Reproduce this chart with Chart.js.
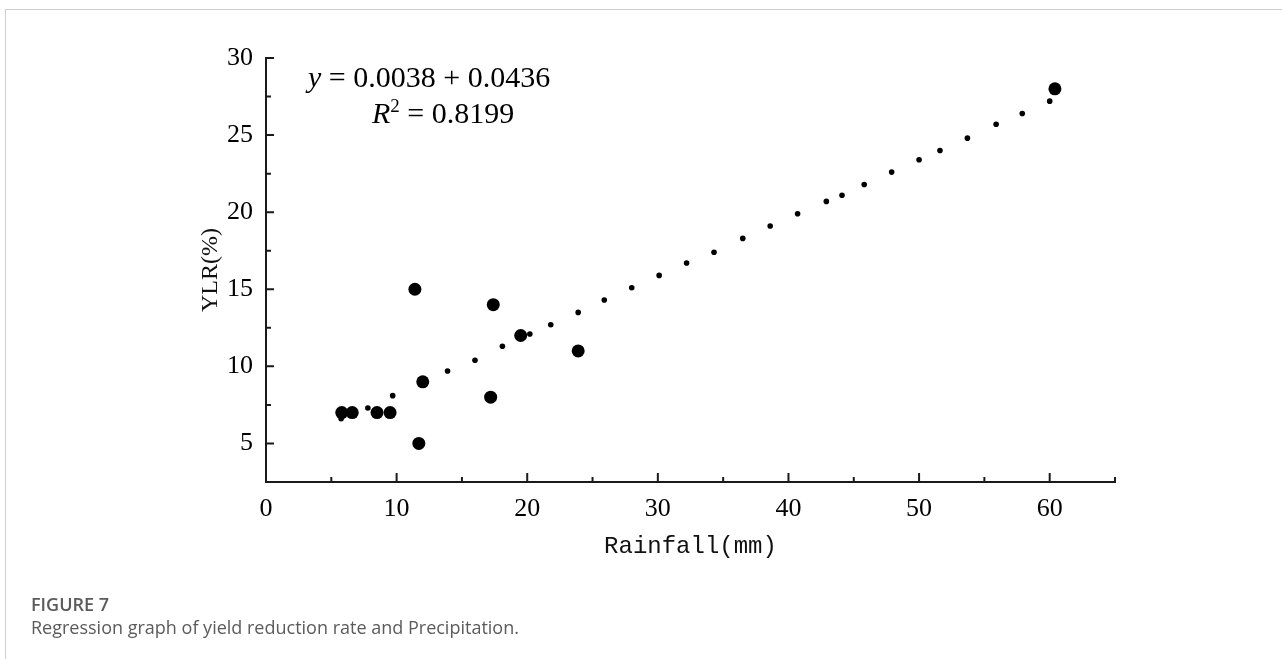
<!DOCTYPE html>
<html>
<head>
<meta charset="utf-8">
<script src="https://cdn.jsdelivr.net/npm/chart.js@4.4.0/dist/chart.umd.min.js"></script>
<style>
  html, body { margin: 0; padding: 0; background: #fff; }
  body { width: 1282px; height: 659px; position: relative; overflow: hidden; }
  #frame { position: absolute; left: 5px; top: 9px; right: 0; bottom: 0;
           border-top: 1px solid #cfcfcf; border-left: 1px solid #cfcfcf; }
  #chart { position: absolute; left: 0; top: 0; }
  .eq { position: absolute; font-family: 'Liberation Serif', 'Times New Roman', serif;
        font-size: 30px; line-height: 30px; color: #000; white-space: pre; }
  .eq i { font-style: italic; }
  .eq sup { font-size: 19px; vertical-align: 11px; line-height: 0; }
  .cap { position: absolute; left: 31px; font-family: 'Open Sans', 'Noto Sans', sans-serif;
         font-size: 18px; line-height: 22px; color: #5b5b5b; white-space: nowrap; }
</style>
</head>
<body>
<div id="frame"></div>
<canvas id="chart" width="1282" height="659"></canvas>
<div class="eq" style="left:308px; top:62px;"><i>y</i> = 0.0038 + 0.0436</div>
<div class="eq" style="left:372px; top:98px;"><i>R</i><sup>2</sup> = 0.8199</div>
<div class="cap" style="top:593px; font-weight:600;">FIGURE 7</div>
<div class="cap" style="top:616px;">Regression graph of yield reduction rate and Precipitation.</div>
<script>
// observed rainfall (mm) vs yield loss rate (%)
const rainfallObs = [5.8, 6.6, 8.5, 9.5, 11.4, 11.7, 12.0, 17.2, 17.4, 19.5, 23.9, 60.4];
const ylrObs = [7, 7, 7, 7, 15, 5, 9, 8, 14, 12, 11, 28];

// fitted points (small dots)
const rainfallFit = [5.75, 7.8, 9.7, 13.9, 16.0, 18.1, 20.2, 21.8, 23.9, 25.9, 28.0, 30.1, 32.2,
  34.3, 36.5, 38.6, 40.7, 42.9, 44.1, 45.8, 47.9, 50.0, 51.6, 53.7, 55.9, 57.9, 60.0];
const ylrFit = [6.6, 7.3, 8.1, 9.7, 10.4, 11.3, 12.1, 12.7, 13.5, 14.3, 15.1, 15.9, 16.7,
  17.4, 18.3, 19.1, 19.9, 20.7, 21.1, 21.8, 22.6, 23.4, 24.0, 24.8, 25.7, 26.4, 27.2];

const xTicks = [0, 10, 20, 30, 40, 50, 60];
const xMinorTicks = [5, 15, 25, 35, 45, 55, 65];
const yTicks = [5, 10, 15, 20, 25, 30];
const yMinorTicks = [7.5, 12.5, 17.5, 22.5, 27.5];

const serif = "'Liberation Serif', 'Times New Roman', serif";

// ticks pointing into the plot area
const innerTicks = {
  id: 'innerTicks',
  afterDraw(chart) {
    const { ctx, chartArea, scales } = chart;
    ctx.save();
    ctx.strokeStyle = '#1a1a1a';
    ctx.lineWidth = 2;
    ctx.beginPath();
    xTicks.forEach(v => {
      const px = scales.x.getPixelForValue(v);
      ctx.moveTo(px, chartArea.bottom); ctx.lineTo(px, chartArea.bottom - 9);
    });
    xMinorTicks.forEach(v => {
      const px = scales.x.getPixelForValue(v);
      ctx.moveTo(px, chartArea.bottom); ctx.lineTo(px, chartArea.bottom - 5);
    });
    yTicks.forEach(v => {
      const py = scales.y.getPixelForValue(v);
      ctx.moveTo(chartArea.left, py); ctx.lineTo(chartArea.left + 8, py);
    });
    yMinorTicks.forEach(v => {
      const py = scales.y.getPixelForValue(v);
      ctx.moveTo(chartArea.left, py); ctx.lineTo(chartArea.left + 5, py);
    });
    ctx.stroke();
    ctx.restore();
  }
};

new Chart(document.getElementById('chart'), {
  type: 'scatter',
  data: {
    datasets: [
      {
        label: 'observed',
        data: rainfallObs.map((x, i) => ({ x: x, y: ylrObs[i] })),
        backgroundColor: '#000',
        borderWidth: 0,
        pointRadius: 6.5
      },
      {
        label: 'fit',
        data: rainfallFit.map((x, i) => ({ x: x, y: ylrFit[i] })),
        backgroundColor: '#000',
        borderWidth: 0,
        pointRadius: 2.8
      }
    ]
  },
  options: {
    responsive: false,
    animation: false,
    devicePixelRatio: 1,
    layout: { padding: { left: 196, right: 167, top: 58, bottom: 98 } },
    plugins: { legend: { display: false }, tooltip: { enabled: false } },
    scales: {
      x: {
        type: 'linear',
        min: 0,
        max: 65,
        afterBuildTicks: s => { s.ticks = xTicks.map(v => ({ value: v })); },
        afterFit: s => { s.height = 79; },
        grid: { display: false, drawTicks: false },
        border: { color: '#1a1a1a', width: 2 },
        ticks: { padding: 12, color: '#000', font: { family: serif, size: 26 } },
        title: {
          display: true,
          text: 'Rainfall(mm)',
          color: '#111',
          padding: 0,
          font: { family: "'Liberation Mono', 'DejaVu Sans Mono', monospace", size: 24 }
        }
      },
      y: {
        type: 'linear',
        min: 2.5,
        max: 30,
        afterBuildTicks: s => { s.ticks = yTicks.map(v => ({ value: v })); },
        afterFit: s => { s.width = 70; },
        grid: { display: false, drawTicks: false },
        border: { color: '#1a1a1a', width: 2 },
        ticks: { padding: 13, color: '#000', font: { family: serif, size: 26 } },
        title: {
          display: true,
          text: 'YLR(%)',
          color: '#111',
          padding: 0,
          font: { family: serif, size: 24 }
        }
      }
    }
  },
  plugins: [innerTicks]
});
</script>
</body>
</html>
